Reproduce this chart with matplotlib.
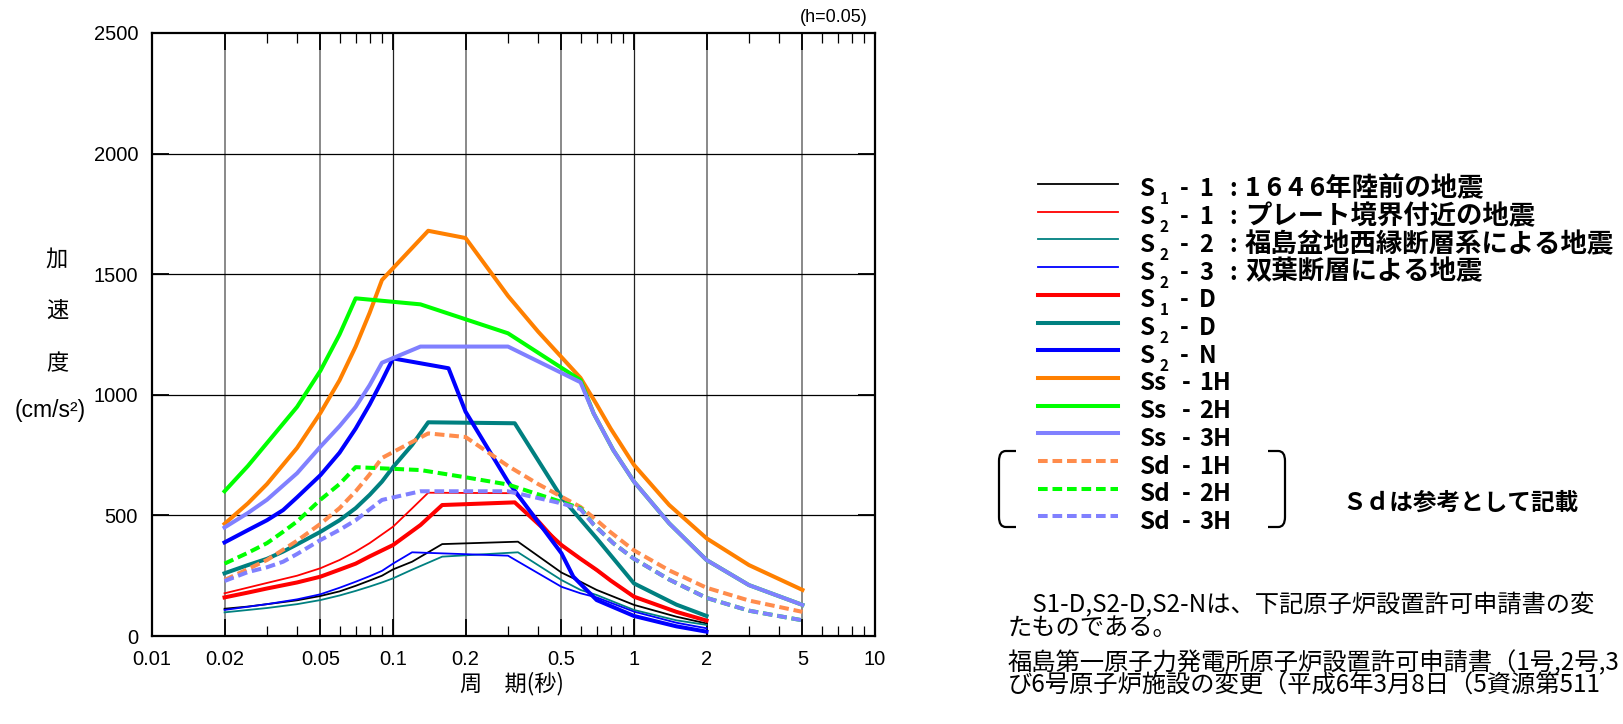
import numpy as np
import matplotlib
matplotlib.use('Agg')
import matplotlib.pyplot as plt
from matplotlib.lines import Line2D
from matplotlib.path import Path
from matplotlib.patches import PathPatch

W, H = 1623, 724
JP = ['Noto Sans CJK JP', 'DejaVu Sans']
EN = ['Liberation Sans', 'DejaVu Sans']

#####################################################
# data (period [s], acceleration [cm/s2])

s1_1_T = [0.02, 0.025, 0.03, 0.04, 0.05, 0.06, 0.07, 0.08, 0.09, 0.1, 0.12, 0.16, 0.33, 0.5, 0.6, 0.7, 1.0, 1.5, 2.0]
s1_1_A = [113, 122, 132, 148, 166, 185, 208, 230, 250, 276, 308, 381, 391, 263, 225, 191, 129, 80, 52]

s2_1_T = [0.02, 0.03, 0.04, 0.05, 0.06, 0.07, 0.08, 0.1, 0.12, 0.14, 0.32, 0.5, 0.7, 1.0, 2.0]
s2_1_A = [177, 220, 250, 281, 315, 350, 385, 453, 529, 594, 592, 375, 270, 160, 62]

s2_2_T = [0.02, 0.03, 0.04, 0.05, 0.06, 0.07, 0.08, 0.09, 0.1, 0.12, 0.16, 0.33, 0.5, 0.6, 0.7, 1.0, 1.5, 2.0]
s2_2_A = [98, 116, 132, 149, 168, 187, 205, 222, 239, 275, 329, 347, 232, 191, 170, 108, 65, 46]

s2_3_T = [0.02, 0.03, 0.04, 0.05, 0.06, 0.07, 0.08, 0.09, 0.1, 0.12, 0.3, 0.5, 0.6, 0.7, 1.0, 1.5, 2.0]
s2_3_A = [108, 132, 152, 173, 200, 225, 248, 270, 300, 347, 333, 204, 177, 160, 101, 55, 32]

s1_d_T = [0.02, 0.025, 0.03, 0.04, 0.05, 0.06, 0.07, 0.08, 0.1, 0.13, 0.16, 0.32, 0.5, 0.6, 0.7, 0.8, 1.0, 1.5, 2.0]
s1_d_A = [160, 180, 197, 222, 246, 275, 300, 330, 377, 460, 543, 554, 377, 320, 274, 230, 163, 100, 64]

s2_d_T = [0.02, 0.025, 0.03, 0.035, 0.04, 0.05, 0.06, 0.07, 0.08, 0.09, 0.1, 0.12, 0.14, 0.32, 0.5, 0.7, 1.0, 1.5, 2.0]
s2_d_A = [260, 294, 320, 350, 380, 432, 480, 530, 585, 640, 700, 792, 886, 882, 575, 405, 218, 130, 83]

s2_n_T = [0.02, 0.025, 0.03, 0.035, 0.04, 0.05, 0.06, 0.07, 0.08, 0.09, 0.1, 0.17, 0.2, 0.3, 0.5, 0.56, 0.7, 1.0, 1.5, 2.0]
s2_n_A = [388, 439, 480, 522, 575, 667, 760, 860, 960, 1058, 1151, 1110, 930, 640, 343, 246, 149, 83, 40, 18]

ss_1h_T = [0.02, 0.025, 0.03, 0.04, 0.05, 0.06, 0.07, 0.08, 0.09, 0.14, 0.2, 0.3, 0.4, 0.6, 0.7, 0.8, 1.0, 1.4, 2.0, 3.0, 5.0]
ss_1h_A = [465, 550, 630, 780, 925, 1060, 1200, 1340, 1476, 1680, 1650, 1410, 1262, 1070, 960, 860, 709, 543, 405, 294, 191]

ss_2h_T = [0.02, 0.025, 0.03, 0.04, 0.05, 0.06, 0.07, 0.13, 0.3, 0.6, 0.68, 0.82, 1.0, 1.4, 2.0, 3.0, 5.0]
ss_2h_A = [600, 705, 800, 950, 1100, 1250, 1400, 1375, 1255, 1061, 923, 771, 640, 467, 315, 211, 129]

ss_3h_T = [0.02, 0.025, 0.03, 0.04, 0.05, 0.06, 0.07, 0.08, 0.09, 0.13, 0.3, 0.6, 0.68, 0.82, 1.0, 1.4, 2.0, 3.0, 5.0]
ss_3h_A = [450, 510, 565, 675, 785, 870, 950, 1040, 1133, 1200, 1200, 1052, 923, 771, 640, 467, 315, 211, 129]

sd_1h_T = [0.02, 0.03, 0.04, 0.05, 0.06, 0.07, 0.08, 0.09, 0.14, 0.2, 0.3, 0.4, 0.6, 0.7, 0.8, 1.0, 1.4, 2.0, 3.0, 5.0]
sd_1h_A = [232, 315, 395, 465, 530, 600, 670, 738, 840, 825, 705, 630, 535, 480, 430, 355, 272, 200, 147, 100]

sd_2h_T = [0.02, 0.025, 0.03, 0.035, 0.04, 0.05, 0.06, 0.07, 0.13, 0.2, 0.3, 0.6, 0.68, 0.82, 1.0, 1.4, 2.0, 3.0, 5.0]
sd_2h_A = [300, 345, 385, 432, 475, 565, 630, 700, 688, 658, 628, 530, 462, 385, 320, 234, 158, 105, 65]

sd_3h_T = [0.02, 0.025, 0.03, 0.035, 0.04, 0.05, 0.06, 0.07, 0.08, 0.09, 0.13, 0.3, 0.5, 0.6, 0.68, 0.82, 1.0, 1.4, 2.0, 3.0, 5.0]
sd_3h_A = [228, 265, 285, 308, 340, 398, 440, 480, 525, 564, 600, 600, 550, 526, 462, 385, 320, 234, 158, 105, 65]

x_ticks = [0.01, 0.02, 0.05, 0.1, 0.2, 0.5, 1, 2, 5, 10]
x_labels = ['0.01', '0.02', '0.05', '0.1', '0.2', '0.5', '1', '2', '5', '10']
x_minor = [0.03, 0.04, 0.06, 0.07, 0.08, 0.09, 0.3, 0.4, 0.6, 0.7, 0.8, 0.9, 3, 4, 6, 7, 8, 9]
y_ticks = [0, 500, 1000, 1500, 2000, 2500]
grid_gray = [0.02, 0.05, 0.2, 0.5, 2, 5]
grid_black = [0.1, 1]

THIN, THICK = 1.3, 2.9
DASH = (0, (2.4, 1.2))
series = [
    # T, A, color, lw, ls, head, sub, tail, desc
    (s1_1_T, s1_1_A, 'black', THIN, '-', 'S', '1', '1', '1 6 4 6年陸前の地震'),
    (s2_1_T, s2_1_A, '#ff0000', THIN, '-', 'S', '2', '1', 'プレート境界付近の地震'),
    (s2_2_T, s2_2_A, '#008080', THIN, '-', 'S', '2', '2', '福島盆地西縁断層系による地震'),
    (s2_3_T, s2_3_A, '#0000ff', THIN, '-', 'S', '2', '3', '双葉断層による地震'),
    (s1_d_T, s1_d_A, '#ff0000', THICK, '-', 'S', '1', 'D', ''),
    (s2_d_T, s2_d_A, '#008080', THICK, '-', 'S', '2', 'D', ''),
    (s2_n_T, s2_n_A, '#0000ff', THICK, '-', 'S', '2', 'N', ''),
    (ss_1h_T, ss_1h_A, '#ff8000', THICK, '-', 'Ss', '', '1H', ''),
    (ss_2h_T, ss_2h_A, '#00ff00', THICK, '-', 'Ss', '', '2H', ''),
    (ss_3h_T, ss_3h_A, '#8080ff', THICK, '-', 'Ss', '', '3H', ''),
    (sd_1h_T, sd_1h_A, '#ff8c4c', THICK, DASH, 'Sd', '', '1H', ''),
    (sd_2h_T, sd_2h_A, '#00ff00', THICK, DASH, 'Sd', '', '2H', ''),
    (sd_3h_T, sd_3h_A, '#8080ff', THICK, DASH, 'Sd', '', '3H', ''),
]


def P(x, y):
    # pixel position -> figure fraction
    return x / W, 1 - y / H


fig = plt.figure(figsize=(W / 100, H / 100), dpi=100)
ax = fig.add_axes([152 / W, 88 / H, 723 / W, 603 / H])
ax.set_xscale('log')
ax.set_xlim(0.01, 10)
ax.set_ylim(0, 2500)

for g in grid_gray:
    ax.axvline(g, color='#808080', lw=1.3, zorder=1)
for g in grid_black:
    ax.axvline(g, color='#222222', lw=0.9, zorder=1)
for g in y_ticks[1:-1]:
    ax.axhline(g, color='black', lw=0.9, zorder=1)

for T, A, c, lw, ls, *_ in series:
    ax.plot(T, A, color=c, lw=lw, ls=ls, dash_capstyle='butt', zorder=3)

ax.set_xticks(x_ticks)
ax.set_xticklabels(x_labels)
ax.set_xticks(x_minor, minor=True)
ax.xaxis.set_minor_formatter(matplotlib.ticker.NullFormatter())
ax.set_yticks(y_ticks)
ax.tick_params(axis='both', which='major', direction='in', length=12, width=1.3,
               top=True, right=True, labelsize=14.5, pad=10)
ax.tick_params(axis='x', which='minor', direction='in', length=7, width=0.9, top=True)
for lab in ax.get_xticklabels() + ax.get_yticklabels():
    lab.set_family(EN)
for s in ax.spines.values():
    s.set_linewidth(1.6)

# axis titles
fig.text(*P(868, 18), '(h=0.05)', ha='right', va='center', fontsize=13, family=EN)
for ch, yy in zip('加速度', [259, 310, 364]):
    fig.text(*P(57, yy), ch, ha='center', va='center', fontsize=16, family=JP)
fig.text(*P(50, 411), '(cm/s²)', ha='center', va='center', fontsize=16.5, family=EN)
fig.text(*P(512, 684), '周　期(秒)', ha='center', va='center', fontsize=16, family=JP)

# legend drawn by hand
for i, (T, A, c, lw, ls, head, sub, tail, desc) in enumerate(series):
    ly = 184 + 27.7 * i
    fig.add_artist(Line2D([1038 / W, 1118 / W], [1 - ly / H] * 2, color=c, lw=lw, ls=ls,
                          dash_capstyle='butt', transform=fig.transFigure))
    by = ly + 12.5
    kw = dict(ha='left', va='baseline', fontweight='bold', family=JP)
    fig.text(*P(1140, by), head, fontsize=17.5, **kw)
    if sub:
        fig.text(*P(1160, by + 8), sub, fontsize=11, **kw)
        fig.text(*P(1180, by), '-', fontsize=17, **kw)
        fig.text(*P(1199, by), tail, fontsize=17, **kw)
    else:
        fig.text(*P(1182, by), '-', fontsize=17, **kw)
        fig.text(*P(1199, by), tail, fontsize=17, **kw)
    if desc:
        fig.text(*P(1229, by), ':', fontsize=17, **kw)
        fig.text(*P(1245, by), desc, fontsize=19, **kw)

# brackets round the Sd entries
for x0p, x1p in ((1016, 999), (1268, 1285)):
    x0, x1 = x0p / W, x1p / W
    xm = (x0 + x1) / 2 + (x1 - x0) * 0.1
    verts = [(x0, 1 - 451 / H), (xm, 1 - 451 / H), (x1, 1 - 451 / H), (x1, 1 - 461 / H),
             (x1, 1 - 517 / H), (x1, 1 - 527 / H), (xm, 1 - 527 / H), (x0, 1 - 527 / H)]
    codes = [Path.MOVETO, Path.LINETO, Path.CURVE3, Path.CURVE3,
             Path.LINETO, Path.CURVE3, Path.CURVE3, Path.LINETO]
    fig.add_artist(PathPatch(Path(verts, codes), fill=False, lw=1.6, color='black',
                             transform=fig.transFigure))

fig.text(*P(1342, 503), 'Ｓｄは参考として記載', ha='left', va='center', fontsize=17,
         fontweight='bold', family=JP)

# notes at the bottom right
notes = ['　S1-D,S2-D,S2-Nは、下記原子炉設置許可申請書の変',
         'たものである。',
         '福島第一原子力発電所原子炉設置許可申請書（1号,2号,3',
         'び6号原子炉施設の変更（平成6年3月8日（5資源第511']
for txt, yy in zip(notes, [605, 628, 663, 686]):
    fig.text(*P(1008, yy), txt, ha='left', va='center', fontsize=17.5, family=JP)

fig.savefig('out.png', dpi=100)
